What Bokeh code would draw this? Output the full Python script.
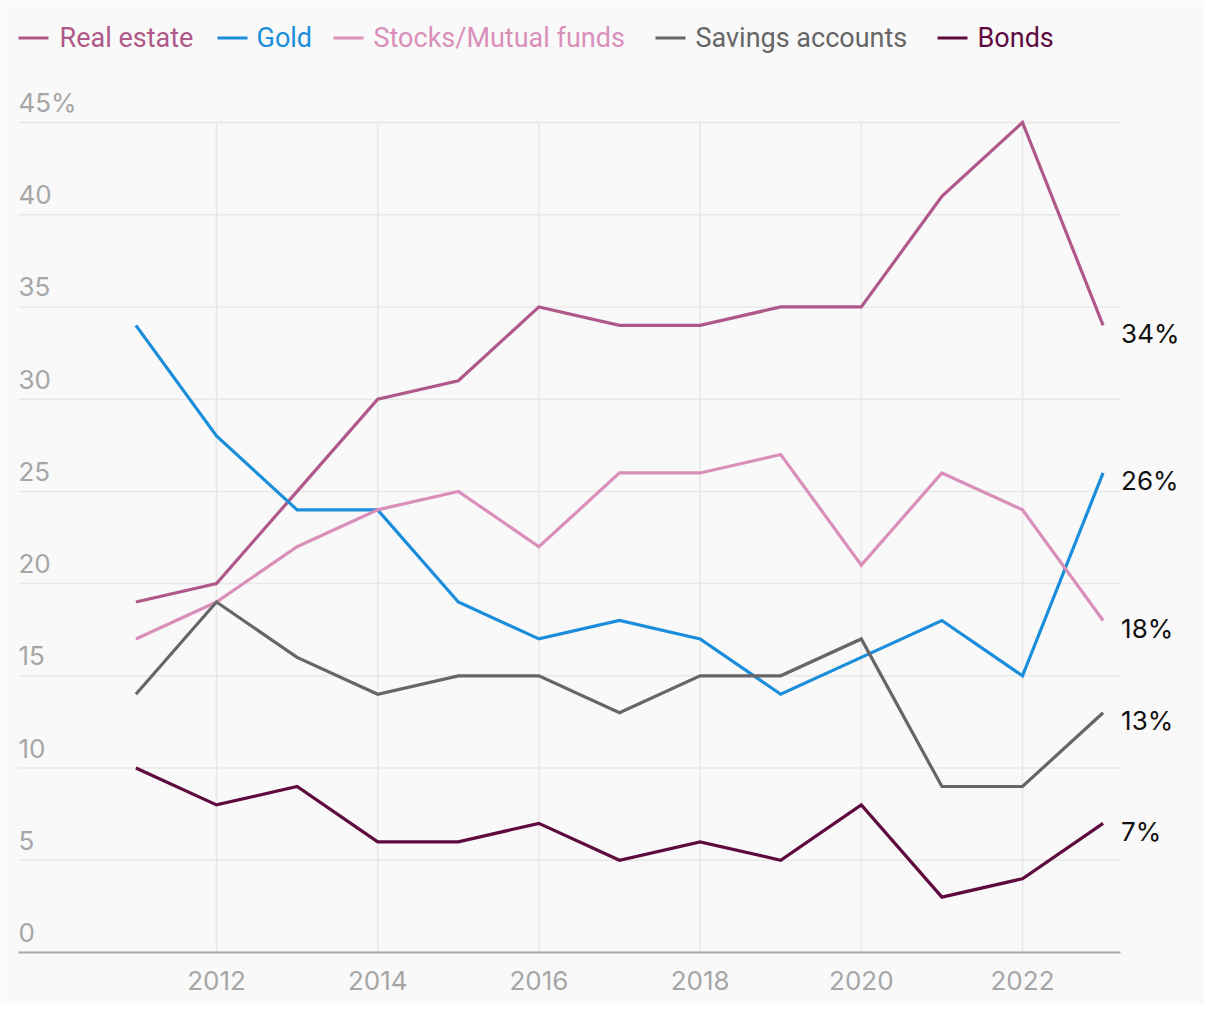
from bokeh.plotting import figure
from bokeh.models import Range1d
from bokeh.core.properties import value
from bokeh.embed import file_html
from bokeh.resources import INLINE

# ---- data ----
years = [2011, 2012, 2013, 2014, 2015, 2016, 2017, 2018, 2019, 2020, 2021, 2022, 2023]
real_estate = [19, 20, 25, 30, 31, 35, 34, 34, 35, 35, 41, 45, 34]
gold = [34, 28, 24, 24, 19, 17, 18, 17, 14, 16, 18, 15, 26]
stocks = [17, 19, 22, 24, 25, 22, 26, 26, 27, 21, 26, 24, 18]
savings = [14, 19, 16, 14, 15, 15, 13, 15, 15, 17, 9, 9, 13]
bonds = [10, 8, 9, 6, 6, 7, 5, 6, 5, 8, 3, 4, 7]

series_names = ["Real estate", "Gold", "Stocks/Mutual funds", "Savings accounts", "Bonds"]
series_values = [real_estate, gold, stocks, savings, bonds]
series_colors = ["#b0588a", "#1a8ddb", "#d98fba", "#666666", "#5e0a3f"]

x_tick_values = [2012, 2014, 2016, 2018, 2020, 2022]
x_tick_labels = ["2012", "2014", "2016", "2018", "2020", "2022"]
y_tick_values = [0, 5, 10, 15, 20, 25, 30, 35, 40, 45]
y_tick_labels = ["0", "5", "10", "15", "20", "25", "30", "35", "40", "45%"]

# ---- layout (pixels) ----
W, H = 1204, 1004
PX_PER_YEAR = 80.6
PX_PER_UNIT = 18.444
X_START = 2011 - 135.4 / PX_PER_YEAR
X_END = X_START + W / PX_PER_YEAR
Y_END = 45 + 122 / PX_PER_UNIT
Y_START = Y_END - H / PX_PER_UNIT


def sx(px):
    return X_START + px / PX_PER_YEAR


def sy(py):
    return Y_END - py / PX_PER_UNIT


FONT = value("Roboto")
NUMFONT = value("Inter")
BG = "#f9f9f9"
GRID = "#e8e8e8"
TICK = "#a6a6a6"

p = figure(width=W, height=H, output_backend="svg", toolbar_location=None,
           x_axis_location=None, y_axis_location=None,
           x_range=Range1d(X_START, X_END), y_range=Range1d(Y_START, Y_END),
           min_border=0)
p.outline_line_color = None
p.background_fill_color = BG
p.border_fill_color = BG
p.xgrid.visible = False
p.ygrid.visible = False

left_x = sx(18)
right_x = sx(1120)

# horizontal grid lines
hy = [v for v in y_tick_values if v != 0]
p.segment(x0=[left_x] * len(hy), x1=[right_x] * len(hy), y0=hy, y1=hy,
          line_color=GRID, line_width=1.5)
# vertical grid lines
p.segment(x0=x_tick_values, x1=x_tick_values, y0=[0] * len(x_tick_values),
          y1=[45] * len(x_tick_values), line_color=GRID, line_width=1.5)
# axis line
p.segment(x0=[left_x], x1=[right_x], y0=[0], y1=[0], line_color="#aaaaaa", line_width=2)

# y labels
p.text(x=[left_x] * len(y_tick_values), y=y_tick_values, text=y_tick_labels,
       text_font=NUMFONT, text_font_size=value("26px"), text_color=TICK,
       text_align="left", text_baseline="middle", y_offset=-20)
# x labels
p.text(x=x_tick_values, y=[0] * len(x_tick_values), text=x_tick_labels,
       text_font=NUMFONT, text_font_size=value("26px"), text_color=TICK,
       text_align="center", text_baseline="middle", y_offset=28)

# lines
for name, vals, col in zip(series_names, series_values, series_colors):
    p.line(years, vals, line_color=col, line_width=3.2, line_join="miter")

# end labels
last_vals = [v[-1] for v in series_values]
p.text(x=[years[-1]] * len(last_vals), y=last_vals, text=[f"{v}%" for v in last_vals],
       text_font=NUMFONT, text_font_size=value("26px"), text_color="#111111",
       text_align="left", text_baseline="middle", x_offset=18, y_offset=8)

# legend
leg_line_x0 = [18, 217, 333, 655, 937]
leg_text_x = [59, 256, 373, 695, 977]
leg_y = sy(37.5)
p.segment(x0=[sx(a) for a in leg_line_x0], x1=[sx(a + 30) for a in leg_line_x0],
          y0=[leg_y] * 5, y1=[leg_y] * 5, line_color=series_colors, line_width=3)
p.text(x=[sx(a) for a in leg_text_x], y=[leg_y] * 5, text=series_names,
       text_font=FONT, text_font_size=value("27px"), text_color=series_colors,
       text_align="left", text_baseline="middle")

open("out.html", "w").write(file_html(p, INLINE))
